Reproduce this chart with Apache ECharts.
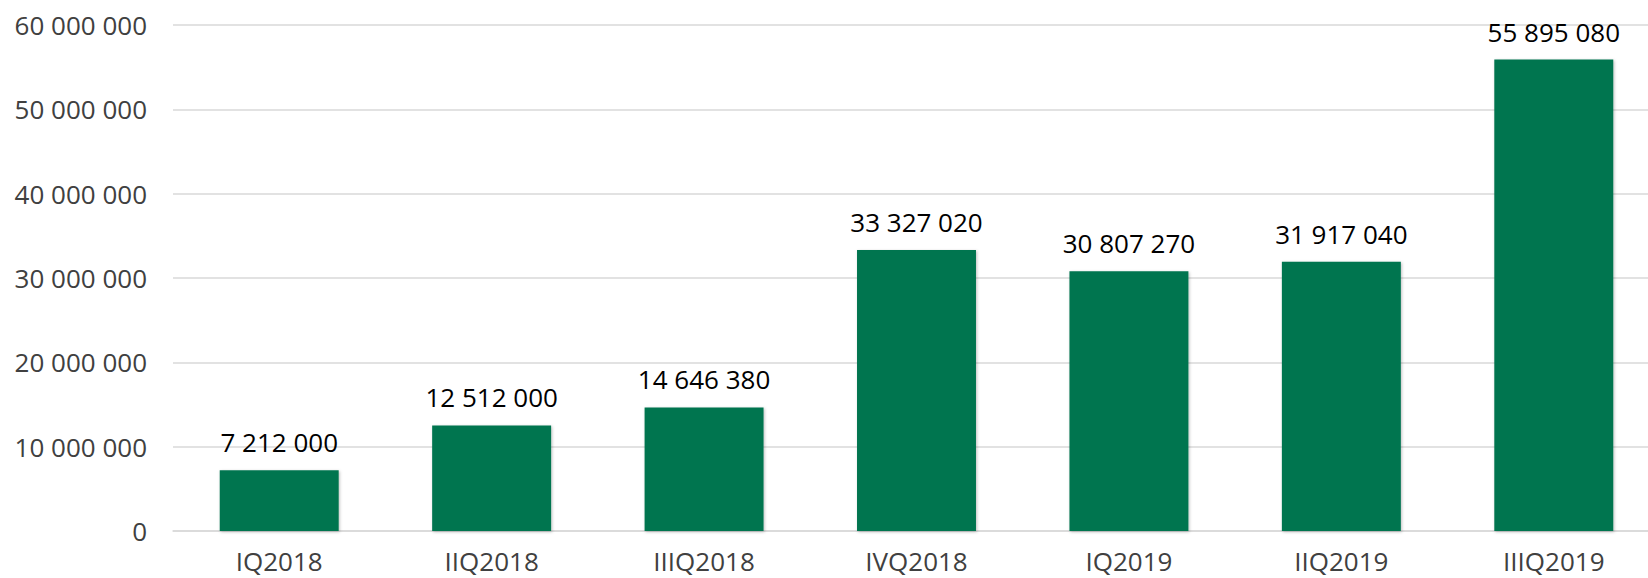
<!DOCTYPE html>
<html>
<head>
<meta charset="utf-8">
<script src="https://cdn.jsdelivr.net/npm/echarts@6/dist/echarts.min.js"></script>
<style>
  html, body { margin: 0; padding: 0; background: #fff; overflow: hidden; }
  #chart { width: 1660px; height: 578px; }
</style>
</head>
<body>
<div id="chart"></div>
<script>
var quarters = ['IQ2018', 'IIQ2018', 'IIIQ2018', 'IVQ2018', 'IQ2019', 'IIQ2019', 'IIIQ2019'];
var values = [7212000, 12512000, 14646380, 33327020, 30807270, 31917040, 55895080];
var yMin = 0;
var yMax = 60000000;
var yStep = 10000000;

function spaced(v) {
  return String(Math.round(v)).replace(/\B(?=(\d{3})+(?!\d))/g, ' ');
}

// the plot area runs a little past the right edge of the window, as in the original
var chart = echarts.init(document.getElementById('chart'), null, { renderer: 'svg' });
chart.setOption({
  animation: false,
  textStyle: { fontFamily: 'Open Sans' },
  grid: { left: 173, top: 25, right: 0, bottom: 47 },
  xAxis: {
    type: 'category',
    data: quarters,
    axisLine: { lineStyle: { color: '#d9d9d9', width: 1.5 } },
    axisTick: { show: false },
    axisLabel: { color: '#404040', fontSize: 26, lineHeight: 26, margin: 17 }
  },
  yAxis: {
    type: 'value',
    min: yMin,
    max: yMax,
    interval: yStep,
    axisLine: { show: false },
    axisTick: { show: false },
    axisLabel: { color: '#404040', fontSize: 26, margin: 26, formatter: spaced },
    splitLine: { lineStyle: { color: '#d9d9d9', width: 1.5 } }
  },
  series: [{
    type: 'bar',
    data: values,
    barCategoryGap: '44%',
    itemStyle: {
      color: '#00744f',
      shadowBlur: 3,
      shadowColor: 'rgba(0,0,0,0.25)',
      shadowOffsetX: 1,
      shadowOffsetY: 1
    },
    label: {
      show: true,
      position: 'top',
      distance: 15,
      color: '#000',
      fontSize: 26,
      formatter: function(p) { return spaced(p.value); }
    }
  }]
});
</script>
</body>
</html>
